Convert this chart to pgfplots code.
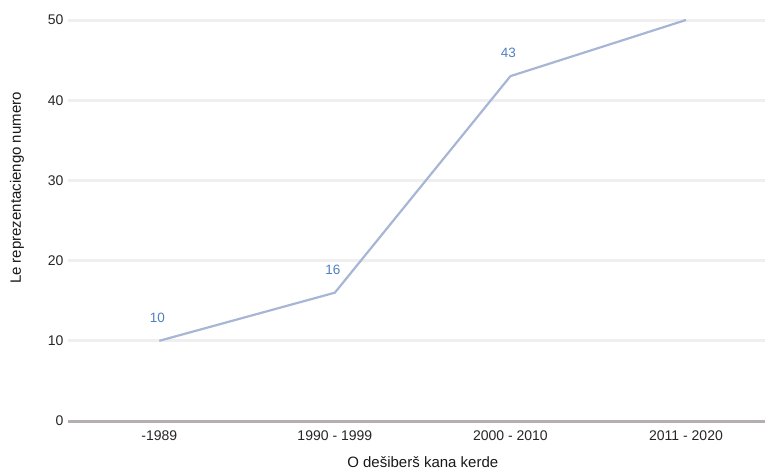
\documentclass[border=0pt]{standalone}
\usepackage{pgfplots}
\pgfplotsset{compat=1.18}
\usepackage{fontspec}
\setmainfont{Liberation Sans}
\definecolor{gridc}{HTML}{EFEFEF}
\definecolor{zeroc}{HTML}{B5AFAF}
\definecolor{linec}{HTML}{A8B6D6}
\definecolor{labc}{HTML}{4F7FC4}
\begin{document}
\begin{tikzpicture}[x=1pt,y=1pt]
\begin{axis}[
  scale only axis,
  width=697pt, height=401pt,
  xmin=-0.52, xmax=3.45,
  ymin=0, ymax=50,
  axis line style={draw=none},
  xtick={0,1,2,3},
  xticklabels={-1989,1990 - 1999,2000 - 2010,2011 - 2020},
  ytick={0,10,20,30,40,50},
  tick style={draw=none},
  ymajorgrids,
  grid style={gridc, line width=3pt},
  extra y ticks={0},
  extra y tick style={grid style={zeroc, line width=3pt}, yticklabels={}},
  tick label style={font=\fontsize{14}{16}\selectfont, text=black!85},
  /pgf/number format/assume math mode=true,
  yticklabel style={xshift=-1pt},
  xticklabel style={yshift=-6pt},
  xlabel={O dešiberš kana kerde},
  ylabel={Le reprezentaciengo numero},
  label style={font=\fontsize{15}{17}\selectfont, text=black!90},
  xlabel style={at={(axis description cs:0.509,-0.102)}, anchor=center},
  ylabel style={at={(axis description cs:-0.0732,0.581)}, anchor=center, rotate=0},
  clip=false,
]
\addplot[linec, line width=2.2pt, line join=round] coordinates {(0,10) (1,16) (2,43) (3,50)};
\addplot[draw=none, mark=none, nodes near coords, point meta=explicit symbolic,
  every node near coord/.style={anchor=center, yshift=23pt, xshift=-2pt, text=labc, font=\fontsize{13.5}{15}\selectfont}]
  coordinates {(0,10) [10] (1,16) [16] (2,43) [43]};
\end{axis}
\path (current axis.south west) ++(-68,-49) rectangle ++(775,470);
\end{tikzpicture}
\end{document}
